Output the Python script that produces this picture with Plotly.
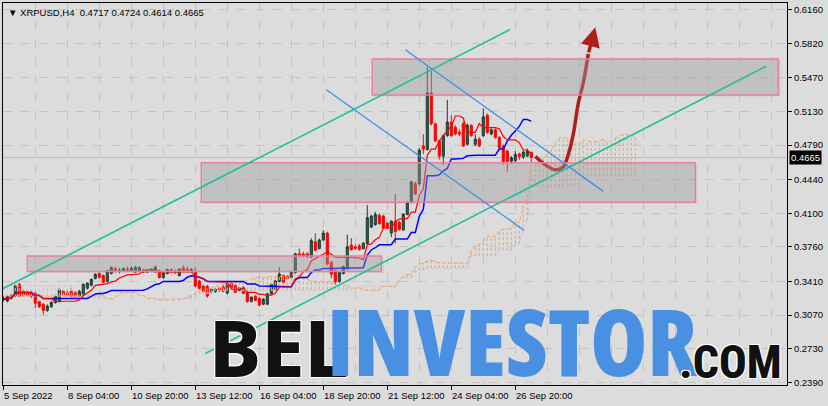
import plotly.graph_objects as go
import pandas as pd

# ---------------- data (XRPUSD, H4 bars, index 0 = 5 Sep 2022 12:00) ----------------
bar_open = [
    0.3225, 0.3212, 0.3240, 0.3265, 0.3380, 0.3310, 0.3300, 0.3292, 0.3290, 0.3205,
    0.3180, 0.3117, 0.3155, 0.3197, 0.3210, 0.3312, 0.3290, 0.3310, 0.3295, 0.3262,
    0.3278, 0.3342, 0.3372, 0.3440, 0.3490, 0.3470, 0.3410, 0.3492, 0.3540, 0.3520,
    0.3518, 0.3536, 0.3524, 0.3505, 0.3512, 0.3522, 0.3505, 0.3512, 0.3505, 0.3520,
    0.3450, 0.3490, 0.3528, 0.3515, 0.3470, 0.3548, 0.3535, 0.3520, 0.3512, 0.3415,
    0.3363, 0.3360, 0.3305, 0.3308, 0.3340, 0.3355, 0.3292, 0.3390, 0.3370, 0.3318,
    0.3350, 0.3300, 0.3207, 0.3260, 0.3240, 0.3180, 0.3180, 0.3285, 0.3330, 0.3410,
    0.3470, 0.3462, 0.3450, 0.3500, 0.3690, 0.3688, 0.3690, 0.3657, 0.3813, 0.3743,
    0.3830, 0.3900, 0.3605, 0.3520, 0.3408, 0.3490, 0.3540, 0.3778, 0.3760, 0.3770,
    0.3743, 0.3795, 0.3960, 0.3985, 0.4080, 0.4072, 0.4000, 0.3900, 0.4020, 0.4010,
    0.3934, 0.4090, 0.4211, 0.4400, 0.4400, 0.4782, 0.4747, 0.5319, 0.5007, 0.4834,
    0.4678, 0.4886, 0.5024, 0.4972, 0.4920, 0.5007, 0.4799, 0.4990, 0.4799, 0.4851,
    0.4886, 0.5093, 0.4903, 0.4945, 0.4869, 0.4782, 0.4730, 0.4626, 0.4633, 0.4700,
    0.4670, 0.4680, 0.4717]
bar_high = [
    0.3262, 0.3268, 0.3285, 0.3378, 0.3398, 0.3330, 0.3322, 0.3312, 0.3302, 0.3215,
    0.3190, 0.3178, 0.3210, 0.3270, 0.3345, 0.3322, 0.3318, 0.3345, 0.3310, 0.3325,
    0.3390, 0.3402, 0.3442, 0.3492, 0.3502, 0.3482, 0.3526, 0.3562, 0.3560, 0.3548,
    0.3552, 0.3560, 0.3566, 0.3568, 0.3565, 0.3540, 0.3535, 0.3545, 0.3572, 0.3530,
    0.3505, 0.3540, 0.3545, 0.3532, 0.3545, 0.3575, 0.3560, 0.3548, 0.3560, 0.3428,
    0.3372, 0.3375, 0.3340, 0.3345, 0.3352, 0.3372, 0.3400, 0.3405, 0.3385, 0.3352,
    0.3362, 0.3310, 0.3260, 0.3272, 0.3250, 0.3240, 0.3295, 0.3390, 0.3425, 0.3553,
    0.3480, 0.3475, 0.3510, 0.3700, 0.3743, 0.3710, 0.3705, 0.3847, 0.3899, 0.3845,
    0.3930, 0.3915, 0.3615, 0.3530, 0.3510, 0.3572, 0.3882, 0.3850, 0.3785, 0.3790,
    0.3810, 0.4183, 0.4085, 0.4115, 0.4100, 0.4085, 0.4010, 0.4030, 0.4298, 0.4025,
    0.4100, 0.4225, 0.4430, 0.4420, 0.4760, 0.4900, 0.5580, 0.5540, 0.5020, 0.4845,
    0.4900, 0.5249, 0.5093, 0.4990, 0.4950, 0.5030, 0.5010, 0.5000, 0.4900, 0.4870,
    0.5163, 0.5110, 0.4960, 0.4960, 0.4880, 0.4795, 0.4745, 0.4680, 0.4730, 0.4715,
    0.4735, 0.4755, 0.4724]
bar_low = [
    0.3205, 0.3198, 0.3230, 0.3250, 0.3252, 0.3258, 0.3262, 0.3242, 0.3140, 0.3140,
    0.3075, 0.3102, 0.3142, 0.3185, 0.3200, 0.3262, 0.3266, 0.3252, 0.3250, 0.3250,
    0.3266, 0.3330, 0.3360, 0.3430, 0.3440, 0.3392, 0.3400, 0.3482, 0.3500, 0.3492,
    0.3510, 0.3514, 0.3515, 0.3500, 0.3505, 0.3495, 0.3495, 0.3505, 0.3500, 0.3440,
    0.3438, 0.3482, 0.3495, 0.3488, 0.3462, 0.3505, 0.3505, 0.3505, 0.3350, 0.3330,
    0.3300, 0.3245, 0.3290, 0.3295, 0.3305, 0.3300, 0.3280, 0.3340, 0.3290, 0.3310,
    0.3280, 0.3195, 0.3200, 0.3210, 0.3155, 0.3170, 0.3172, 0.3275, 0.3320, 0.3400,
    0.3390, 0.3430, 0.3440, 0.3490, 0.3660, 0.3655, 0.3650, 0.3645, 0.3715, 0.3735,
    0.3820, 0.3575, 0.3440, 0.3380, 0.3398, 0.3482, 0.3530, 0.3722, 0.3730, 0.3720,
    0.3732, 0.3785, 0.3950, 0.3975, 0.3985, 0.3940, 0.3940, 0.3860, 0.3795, 0.3925,
    0.3920, 0.4080, 0.4200, 0.4285, 0.4380, 0.4700, 0.4735, 0.4990, 0.4820, 0.4643,
    0.4590, 0.4875, 0.4875, 0.4890, 0.4880, 0.4770, 0.4785, 0.4875, 0.4780, 0.4770,
    0.4875, 0.4905, 0.4890, 0.4855, 0.4750, 0.4592, 0.4522, 0.4600, 0.4620, 0.4640,
    0.4650, 0.4670, 0.4614]
bar_close = [
    0.3242, 0.3258, 0.3272, 0.3366, 0.3265, 0.3275, 0.3272, 0.3262, 0.3190, 0.3155,
    0.3117, 0.3160, 0.3197, 0.3260, 0.3325, 0.3276, 0.3272, 0.3262, 0.3258, 0.3310,
    0.3380, 0.3392, 0.3430, 0.3482, 0.3452, 0.3402, 0.3520, 0.3552, 0.3512, 0.3522,
    0.3542, 0.3524, 0.3546, 0.3553, 0.3550, 0.3502, 0.3520, 0.3535, 0.3553, 0.3450,
    0.3495, 0.3530, 0.3505, 0.3498, 0.3535, 0.3512, 0.3515, 0.3530, 0.3363, 0.3340,
    0.3311, 0.3262, 0.3330, 0.3332, 0.3316, 0.3312, 0.3390, 0.3350, 0.3300, 0.3345,
    0.3290, 0.3207, 0.3250, 0.3220, 0.3172, 0.3230, 0.3285, 0.3380, 0.3415, 0.3485,
    0.3400, 0.3440, 0.3500, 0.3690, 0.3670, 0.3665, 0.3660, 0.3823, 0.3727, 0.3830,
    0.3900, 0.3587, 0.3484, 0.3408, 0.3500, 0.3560, 0.3761, 0.3733, 0.3745, 0.3735,
    0.3795, 0.4055, 0.4072, 0.4090, 0.3997, 0.3951, 0.3951, 0.4020, 0.3917, 0.3936,
    0.4090, 0.4211, 0.4418, 0.4298, 0.4740, 0.4750, 0.5319, 0.5007, 0.4834, 0.4678,
    0.4886, 0.5024, 0.4886, 0.4903, 0.4903, 0.4782, 0.4990, 0.4886, 0.4851, 0.4782,
    0.5076, 0.4920, 0.4945, 0.4869, 0.4765, 0.4626, 0.4626, 0.4661, 0.4696, 0.4675,
    0.4720, 0.4730, 0.4665]

# Ichimoku senkou spans shown over the first 26 bars (computed by the terminal from earlier history)
span_a_early = [0.3262, 0.3262, 0.3262, 0.3262, 0.3262, 0.3262, 0.3262, 0.3262, 0.3262,
                0.3262, 0.3262, 0.3262, 0.3262, 0.3262, 0.3262, 0.3262, 0.3262, 0.3262,
                0.3272, 0.3272, 0.3272, 0.3272, 0.3272, 0.3272, 0.3272, 0.3272]
span_b_early = [0.3365, 0.3365, 0.3365, 0.3365, 0.3365, 0.3365, 0.3365, 0.3365, 0.3365,
                0.3365, 0.3365, 0.3365, 0.3365, 0.3365, 0.3365, 0.3365, 0.3365, 0.3365,
                0.3250, 0.3250, 0.3250, 0.3250, 0.3250, 0.3250, 0.3250, 0.3250]

x_tick_bars = [0, 16, 32, 48, 64, 80, 96, 112, 128]
x_tick_labels = ["5 Sep 2022", "8 Sep 04:00", "10 Sep 20:00", "13 Sep 12:00", "16 Sep 04:00",
                 "18 Sep 20:00", "21 Sep 12:00", "24 Sep 04:00", "26 Sep 20:00"]
y_tick_vals = [0.2390, 0.2730, 0.3070, 0.3410, 0.3760, 0.4100, 0.4440, 0.4790,
               0.5130, 0.5470, 0.5820, 0.6160]
last_price = 0.4665
title_text = "▼\u00a0XRPUSD,H4\u00a0\u00a00.4717\u00a00.4724\u00a00.4614\u00a00.4665"

# chart drawings (bar index, price)
channel_upper = [(-0.75, 0.3325), (126.75, 0.5962)]
channel_lower = [(50.5, 0.2681), (190.75, 0.5589)]
wedge_upper = [(100.5, 0.5755), (150.0, 0.4322)]
wedge_lower = [(80.75, 0.5350), (130.25, 0.3927)]
zones = [(92.25, 193.75, 0.5298, 0.5661), (49.5, 173.0, 0.4213, 0.4612), (6.0, 94.5, 0.3512, 0.3667)]
forecast_x = [133.0, 135.5, 138.0, 140.0, 141.25, 142.5, 143.75, 145.0, 146.25]
forecast_y = [0.4675, 0.4592, 0.4540, 0.4571, 0.4696, 0.4903, 0.5215, 0.5423, 0.5714]
forecast_tip = (148.0, 0.5983)

# ---------------- Ichimoku (9, 26, 52) ----------------
h = pd.Series(bar_high)
l = pd.Series(bar_low)
tenkan = (h.rolling(9, min_periods=1).max() + l.rolling(9, min_periods=1).min()) / 2
kijun = (h.rolling(26, min_periods=1).max() + l.rolling(26, min_periods=1).min()) / 2
span_a = list(span_a_early) + list((tenkan + kijun) / 2)
span_b = list(span_b_early) + list((h.rolling(52, min_periods=1).max() + l.rolling(52, min_periods=1).min()) / 2)
n = len(bar_close)
bars = list(range(n))
span_x = list(range(len(span_a)))

ORANGE = "#f4a460"
THISTLE = "#d8bfd8"

hx_o, hy_o, hx_t, hy_t = [], [], [], []
for j, (a, b) in enumerate(zip(span_a, span_b)):
    lo, hi = min(a, b), max(a, b)
    if a >= b:
        hx_o += [j, j, None]; hy_o += [lo, hi, None]
    else:
        hx_t += [j, j, None]; hy_t += [lo, hi, None]

fig = go.Figure()
fig.add_trace(go.Scatter(x=hx_t, y=hy_t, mode="lines", line=dict(color=THISTLE, width=1, dash="3px,2px"),
                         hoverinfo="skip", showlegend=False))
fig.add_trace(go.Scatter(x=hx_o, y=hy_o, mode="lines", line=dict(color=ORANGE, width=1, dash="3px,2px"),
                         hoverinfo="skip", showlegend=False))
fig.add_trace(go.Scatter(x=span_x, y=span_b, mode="lines", line=dict(color=THISTLE, width=1, dash="4px,2px"),
                         showlegend=False))
fig.add_trace(go.Scatter(x=span_x, y=span_a, mode="lines", line=dict(color=ORANGE, width=1, dash="4px,2px"),
                         showlegend=False))

fig.add_trace(go.Candlestick(
    x=bars, open=bar_open, high=bar_high, low=bar_low, close=bar_close,
    increasing=dict(line=dict(color="#1e3a30", width=1), fillcolor="#2f5a4a"),
    decreasing=dict(line=dict(color="#ff0000", width=1), fillcolor="#ff0000"),
    whiskerwidth=0, showlegend=False))

fig.add_trace(go.Scatter(x=bars, y=list(kijun), mode="lines", line=dict(color="#0000ff", width=1.5),
                         showlegend=False))
fig.add_trace(go.Scatter(x=bars, y=list(tenkan), mode="lines", line=dict(color="#ff0000", width=1.2),
                         showlegend=False))

# forecast arrow
fig.add_trace(go.Scatter(x=forecast_x, y=forecast_y, mode="lines",
                         line=dict(color="#b01e18", width=3.5, shape="spline", smoothing=1.0),
                         showlegend=False))

shapes = []
for (x0, x1, y0, y1) in zones:
    shapes.append(dict(type="rect", xref="x", yref="y", x0=x0 + 0.4, x1=x1 + 0.6, y0=y0 - 0.0015, y1=y1 - 0.0005,
                       line=dict(width=0), fillcolor="rgba(0,0,0,0.06)", layer="above"))
    shapes.append(dict(type="rect", xref="x", yref="y", x0=x0, x1=x1, y0=y0, y1=y1,
                       line=dict(color="#e77fa0", width=1.5), fillcolor="rgba(170,170,170,0.38)", layer="above"))
for (p0, p1) in (channel_upper, channel_lower):
    shapes.append(dict(type="line", xref="x", yref="y", x0=p0[0], y0=p0[1], x1=p1[0], y1=p1[1],
                       line=dict(color="#22bfa0", width=1.6), layer="above"))
for (p0, p1) in (wedge_upper, wedge_lower):
    shapes.append(dict(type="line", xref="x", yref="y", x0=p0[0], y0=p0[1], x1=p1[0], y1=p1[1],
                       line=dict(color="#3d8ee8", width=1.3), layer="above"))
shapes.append(dict(type="line", xref="paper", yref="y", x0=0, x1=1, y0=last_price, y1=last_price,
                   line=dict(color="#bdbdbd", width=1), layer="below"))

annotations = []
for b, t in zip(x_tick_bars, x_tick_labels):
    annotations.append(dict(x=b, xref="x", y=0, yref="paper", yshift=-10, xshift=-1, text=t, showarrow=False,
                            xanchor="left", yanchor="middle",
                            font=dict(family="Liberation Sans, Arial, sans-serif", size=9.5, color="#000000")))
annotations.append(dict(x=0, xref="paper", y=1, yref="paper", xshift=3, yshift=-9, text=title_text,
                        showarrow=False, xanchor="left", yanchor="middle",
                        font=dict(family="Liberation Sans, DejaVu Sans, sans-serif", size=9.5, color="#000000")))
annotations.append(dict(x=1, xref="paper", y=last_price, yref="y", xshift=2, text="0.4665", showarrow=False,
                        xanchor="left", yanchor="middle", bgcolor="#000000", borderpad=1,
                        font=dict(family="Liberation Sans, Arial, sans-serif", size=9.5, color="#ffffff")))
annotations.append(dict(x=forecast_tip[0], y=forecast_tip[1], xref="x", yref="y",
                        ax=forecast_x[-1], ay=forecast_y[-1], axref="x", ayref="y", text="",
                        showarrow=True, arrowhead=2, arrowsize=1.1, arrowwidth=3.5, arrowcolor="#b01e18"))

# watermark (text boxes trimmed just below the baseline)
def px(xp):
    return (xp - 3) / 784.0
def py(yp):
    return (385 - yp) / 382.0

COND = '<span style="font-stretch:75%;">{}</span>'
OUTLINE = "1px 1px 0 #ffffff, -1px -1px 0 #ffffff, 1px -1px 0 #ffffff, -1px 1px 0 #ffffff"
annotations.append(dict(x=px(279), y=py(380.6), xref="paper", yref="paper", text=COND.format("BEL"),
                        showarrow=False, xanchor="center", yanchor="bottom", height=86, valign="top", borderpad=0,
                        font=dict(family="Noto Sans", size=78, weight=800, color="#111111", shadow=OUTLINE)))
annotations.append(dict(x=px(512), y=py(380.3), xref="paper", yref="paper", text=COND.format("INVESTOR"),
                        showarrow=False, xanchor="center", yanchor="bottom", height=101, valign="top", borderpad=0,
                        font=dict(family="Open Sans", size=92, weight=800, color="#4a90e2")))
annotations.append(dict(x=px(730), y=py(380.6), xref="paper", yref="paper", text=COND.format(".COM"),
                        showarrow=False, xanchor="center", yanchor="bottom", height=45, valign="top", borderpad=0,
                        font=dict(family="Roboto", size=46, weight=800, color="#111111", shadow=OUTLINE)))

BG = "#dcdcdc"
GRID = "#c4c4c4"
fig.update_layout(
    width=828, height=406,
    margin=dict(l=3, r=41, t=3, b=21),
    paper_bgcolor=BG, plot_bgcolor=BG,
    showlegend=False, hovermode=False,
    boxgap=0.25,
    shapes=shapes, annotations=annotations,
    font=dict(family="Liberation Sans, Arial, sans-serif", size=9.5, color="#000000"),
)
fig.update_xaxes(
    range=[-0.075, 195.925], rangeslider=dict(visible=False),
    tickmode="array", tickvals=x_tick_bars, showticklabels=False,
    ticks="outside", ticklen=4, tickcolor="#000000",
    showgrid=True, gridcolor=GRID, griddash="dash", gridwidth=1,
    minor=dict(tickmode="linear", tick0=0, dtick=8, showgrid=True, gridcolor=GRID, griddash="dash", ticks=""),
    showline=True, linecolor="#000000", linewidth=1, mirror=True, zeroline=False,
)
fig.update_yaxes(
    range=[0.23620, 0.62291], side="right",
    tickmode="array", tickvals=y_tick_vals, ticktext=["%.4f" % v for v in y_tick_vals],
    ticks="outside", ticklen=4, tickcolor="#000000",
    tickfont=dict(family="Liberation Sans, Arial, sans-serif", size=9.5, color="#000000"),
    showgrid=True, gridcolor=GRID, griddash="dash", gridwidth=1,
    showline=True, linecolor="#000000", linewidth=1, mirror=True, zeroline=False,
)

fig.write_html("out.html", config={"displayModeBar": False},
               post_script="document.body.style.margin='0px';")
